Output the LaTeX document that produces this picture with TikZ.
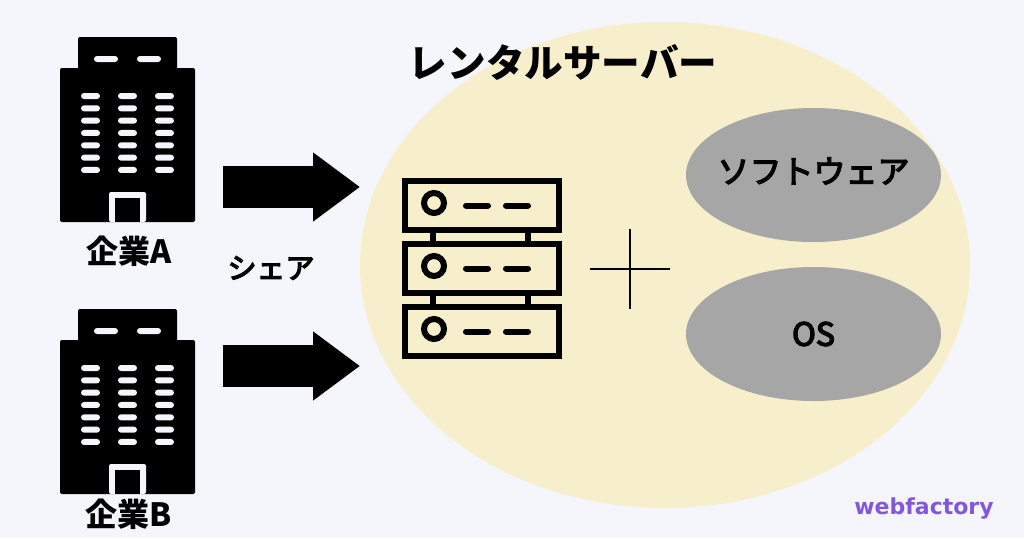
\documentclass[tikz,border=0pt]{standalone}
\usepackage{fontspec}
\usepackage{tikz}
\usetikzlibrary{arrows.meta}
\usetikzlibrary{shapes.geometric}
\newfontfamily\jpfont{Noto Sans CJK JP}
\newfontfamily\markfont{DejaVu Sans}
\newcommand{\medtext}[1]{\special{pdf:code 2 Tr 1.3 w}#1\special{pdf:code 0 Tr 1 w}}
\definecolor{pagebg}{HTML}{F5F6FC}
\definecolor{rentalbg}{HTML}{F7EFCB}
\definecolor{softgray}{HTML}{A6A6A6}
\definecolor{markpurple}{HTML}{8257DC}
\tikzset{
	oval/.style={ellipse,inner sep=0pt,fill=softgray,minimum width=255pt,minimum height=134pt},
	jplabel/.style={inner sep=0pt,font=\jpfont\bfseries\fontsize{32}{32}\selectfont},
	softlabel/.style={inner sep=0pt,font=\jpfont\fontsize{32}{32}\selectfont},
	blockarrow/.style={line width=42pt,-{Triangle[length=47pt,width=66pt]}},
	rack/.style={line width=6pt,line join=miter},
	slot/.style={line width=6pt,line cap=round}
}
\newcommand{\building}[1]{
\begin{scope}[yshift=-#1pt]
\fill [black,rounded corners=2pt] (78,37) rectangle (177,80);
\fill [black,rounded corners=2pt] (60,68) rectangle (195,222);
\foreach \x in {94,137}
	\fill [pagebg,rounded corners=3pt] (\x,56) rectangle (\x+24,62);
\foreach \x in {81,118,155}
	\foreach \y in {0,...,6}
		\fill [pagebg,rounded corners=3pt] (\x,93+12.33*\y) rectangle (\x+19,99+12.33*\y);
\fill [pagebg,rounded corners=2pt] (109,222) -- (109,192) -- (146,192) -- (146,222) -- cycle;
\fill [black] (115,222) rectangle (140,198);
\end{scope}
}
\newcommand{\serverbox}[1]{
\draw [rack] (405,181+#1) rectangle (559,230+#1);
\draw [line width=6pt] (434,203+#1) circle (10pt);
\draw [slot] (466,205.5+#1) -- (488,205.5+#1);
\draw [slot] (506,205.5+#1) -- (528,205.5+#1);
}
\begin{document}
\begin{tikzpicture}[x=1pt,y=-1pt]
\useasboundingbox (0,0) rectangle (1024,538);
\fill [pagebg] (0,0) rectangle (1024,538);

\node [ellipse,inner sep=0pt,fill=rentalbg,minimum width=610pt,minimum height=486pt] (rental) at (665,265) {};
\node [inner sep=0pt,font=\jpfont\bfseries\fontsize{38.6}{38.6}\selectfont] (title) at (563,62) {レンタルサーバー};

\building{0}
\building{272}
\node [jplabel] (companyA) at (129,251) {企業A};
\node [jplabel] (companyB) at (129,514) {企業B};
\node [softlabel,font=\jpfont\fontsize{29}{29}\selectfont] (share) at (271,268) {\medtext{シェア}};

\coordinate (arrowAfrom) at (223,187);
\coordinate (arrowAto) at (360,187);
\coordinate (arrowBfrom) at (223,366);
\coordinate (arrowBto) at (360,366);
\draw [blockarrow] (arrowAfrom) -- (arrowAto);
\draw [blockarrow] (arrowBfrom) -- (arrowBto);

% rack
\foreach \y in {0,63,126}
	\serverbox{\y}
\foreach \x in {433,528}
	\foreach \y in {233,296}
		\draw [line width=6pt] (\x,\y) -- (\x,\y+8);

\draw [line width=2pt] (590,269) -- (670,269);
\draw [line width=2pt] (630,229) -- (630,309);

\node [oval] (softoval) at (813.5,175) {};
\node [oval] (osoval) at (813.5,334) {};
\node [softlabel] (software) at (813.5,171) {\medtext{ソフトウェア}};
\node [softlabel] (os) at (osoval.center) {\medtext{OS}};

\node [inner sep=0pt,text=markpurple,font=\markfont\bfseries\fontsize{22}{22}\selectfont] (mark) at (924,509) {webfactory};
\end{tikzpicture}
\end{document}
